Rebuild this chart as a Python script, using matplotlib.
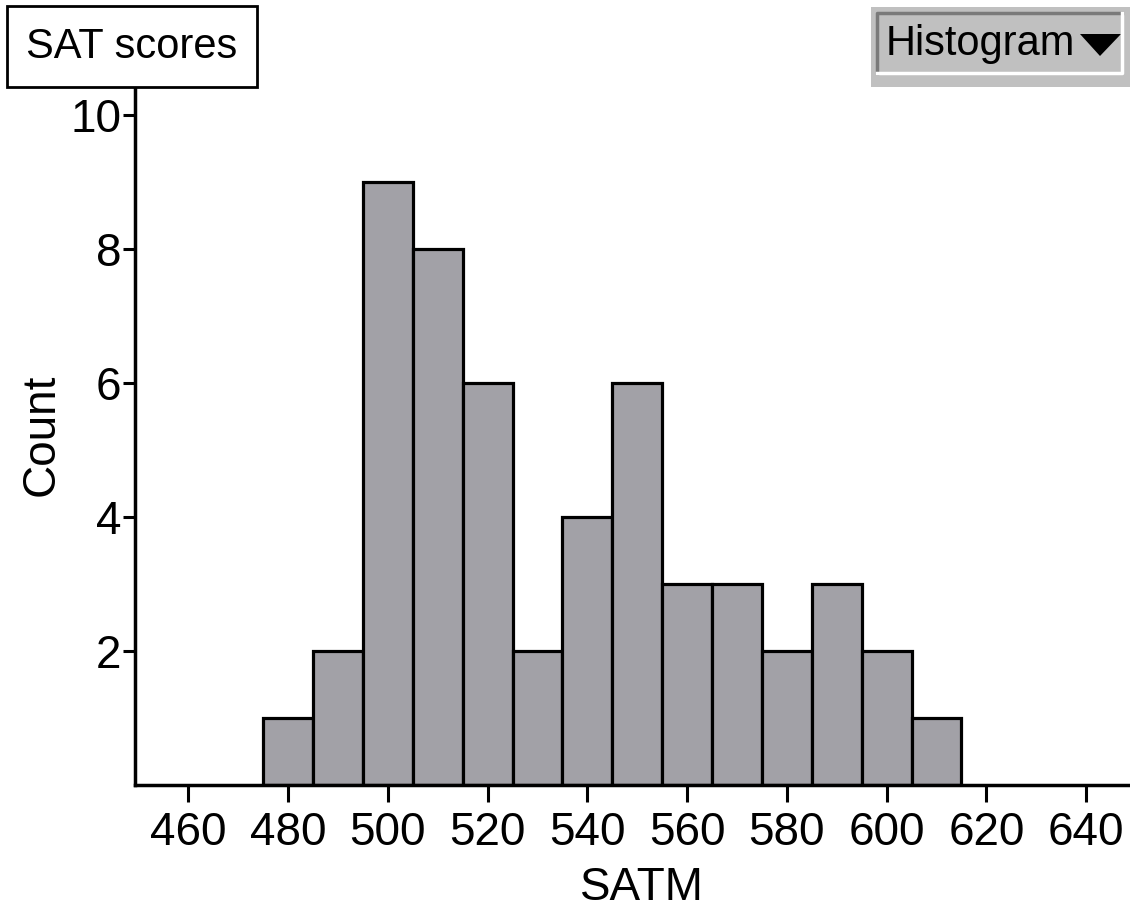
import numpy as np
import matplotlib.pyplot as plt
from matplotlib.patches import Rectangle, Polygon
from matplotlib.lines import Line2D

# histogram data: bin edges (width 10) and counts
bin_edges = [475, 485, 495, 505, 515, 525, 535, 545, 555, 565, 575, 585, 595, 605, 615]
counts = [1, 2, 9, 8, 6, 2, 4, 6, 3, 3, 2, 3, 2, 1]
x_ticks = [460, 480, 500, 520, 540, 560, 580, 600, 620, 640]
y_ticks = [2, 4, 6, 8, 10]

plt.rcParams['font.family'] = ['Liberation Sans', 'DejaVu Sans']

W, H = 1130, 911
fig = plt.figure(figsize=(W / 100, H / 100), dpi=100)
ax = fig.add_axes([135 / W, 1 - 785 / H, 993 / W, 698 / H])

lefts = np.array(bin_edges[:-1])
widths = np.diff(bin_edges)
ax.bar(lefts, counts, width=widths, align='edge', color='#a2a1a7',
       edgecolor='black', linewidth=2.3, zorder=2)

ax.set_xlim(449.3, 648.4)
ax.set_ylim(0, 10.42)
ax.set_xticks(x_ticks)
ax.set_yticks(y_ticks)
ax.tick_params(axis='both', labelsize=33, width=2.2, direction='out')
ax.tick_params(axis='x', length=12, pad=7)
ax.tick_params(axis='y', length=9, pad=1)
for s in ['top', 'right']:
    ax.spines[s].set_visible(False)
for s in ['left', 'bottom']:
    ax.spines[s].set_linewidth(2.5)

ax.set_xlabel('SATM', fontsize=33, va='top')
ax.xaxis.set_label_coords((642 - 135) / 993, (785 - 866) / 698)
ax.set_ylabel('Count', fontsize=33, va='center', ha='center')
ax.yaxis.set_label_coords((42 - 135) / 993, (785 - 435) / 698)

# title box top-left
fig.patches.append(Rectangle((7 / W, 1 - 87 / H), 250 / W, 81 / H, transform=fig.transFigure,
                             facecolor='white', edgecolor='black', linewidth=2))
fig.text(132 / W, 1 - 47 / H, 'SAT scores', fontsize=30, ha='center', va='center')

# "Histogram" button top-right
fig.patches.append(Rectangle((871 / W, 1 - 87 / H), 259 / W, 80 / H,
                             transform=fig.transFigure, facecolor='#c0c0c0', edgecolor='none'))
bx0, bx1, by0, by1 = 877 / W, 1122 / W, 1 - 73 / H, 1 - 13 / H
fig.lines.append(Line2D([bx0, bx0, bx1], [by0, by1, by1], transform=fig.transFigure,
                        color='#7a7a7a', linewidth=2.5))
fig.lines.append(Line2D([bx0, bx1, bx1], [by0, by0, by1], transform=fig.transFigure,
                        color='white', linewidth=2.5))
fig.text(886 / W, 1 - 44 / H, 'Histogram', fontsize=30, ha='left', va='center')
fig.patches.append(Polygon([(1080 / W, 1 - 34 / H), (1121 / W, 1 - 34 / H), (1100 / W, 1 - 56 / H)],
                           closed=True, transform=fig.transFigure, facecolor='black',
                           edgecolor='none'))

fig.savefig('out.png', dpi=100)
